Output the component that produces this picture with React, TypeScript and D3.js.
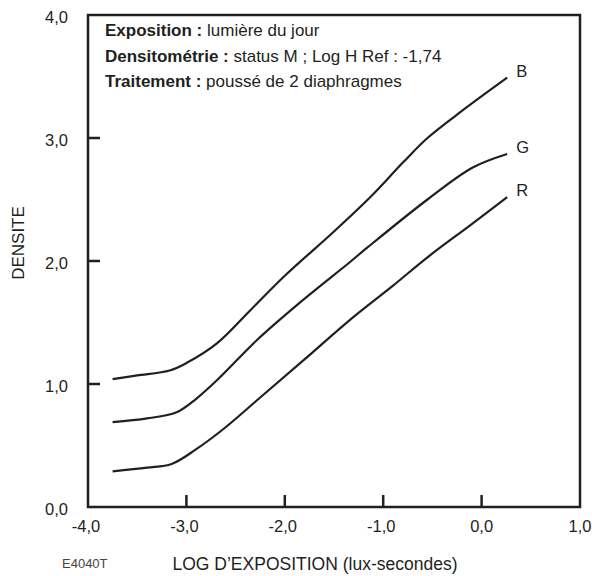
import { useEffect, useRef } from "react"
import * as d3 from "d3"

// log exposure / density readings per layer
const blueCurve: [number, number][] = [
  [-3.75, 1.04], [-3.5, 1.07], [-3.17, 1.11], [-3.0, 1.17], [-2.69, 1.33], [-2.35, 1.6],
  [-2.0, 1.88], [-1.5, 2.24], [-1.13, 2.52], [-0.8, 2.8], [-0.55, 3.0], [-0.2, 3.22], [0.26, 3.49],
]
const greenCurve: [number, number][] = [
  [-3.75, 0.69], [-3.4, 0.72], [-3.1, 0.77], [-2.9, 0.88], [-2.69, 1.03], [-2.28, 1.36],
  [-1.85, 1.66], [-1.34, 1.99], [-1.16, 2.11], [-0.55, 2.5], [-0.09, 2.76], [0.26, 2.87],
]
const redCurve: [number, number][] = [
  [-3.75, 0.29], [-3.4, 0.32], [-3.15, 0.35], [-2.9, 0.47], [-2.63, 0.63], [-2.25, 0.89],
  [-1.8, 1.2], [-1.31, 1.54], [-0.9, 1.8], [-0.55, 2.03], [-0.1, 2.3], [0.26, 2.52],
]
const seriesNames = ["B", "G", "R"]
const xTicks = [-4, -3, -2, -1, 0, 1]
const yTicks = [0, 1, 2, 3, 4]
const infoLines = [
  ["Exposition :", " lumière du jour"],
  ["Densitométrie :", " status M ; Log H Ref : -1,74"],
  ["Traitement :", " poussé de 2 diaphragmes"],
]

const FONT = "'Liberation Sans', Arial, Helvetica, sans-serif"
const INK = "#231f20"

const App = () => {
  const svgRef = useRef<SVGSVGElement>(null)

  useEffect(() => {
    const svg = d3.select(svgRef.current)
    svg.selectAll("*").remove()

    const margin = { top: 15, right: 12, bottom: 69, left: 88 }
    const W = 592, H = 576
    const w = W - margin.left - margin.right
    const h = H - margin.top - margin.bottom

    const x = d3.scaleLinear().domain([-4, 1]).range([0, w])
    const y = d3.scaleLinear().domain([0, 4]).range([h, 0])
    // comma decimal, plain hyphen
    const fmt = (v: number) => (v < 0 ? "-" : "") + Math.abs(v).toFixed(1).replace(".", ",")

    const g = svg.append("g").attr("transform", `translate(${margin.left},${margin.top})`)

    // frame
    g.append("rect")
      .attr("width", w).attr("height", h)
      .attr("fill", "none").attr("stroke", INK).attr("stroke-width", 2.5)

    // inward ticks
    g.selectAll(".xt").data(xTicks.slice(1, -1)).join("line")
      .attr("x1", (d) => x(d)).attr("x2", (d) => x(d))
      .attr("y1", h).attr("y2", h - 12)
      .attr("stroke", INK).attr("stroke-width", 2.5)
    g.selectAll(".yt").data(yTicks.slice(1, -1)).join("line")
      .attr("x1", 0).attr("x2", 12)
      .attr("y1", (d) => y(d)).attr("y2", (d) => y(d))
      .attr("stroke", INK).attr("stroke-width", 2.5)

    g.selectAll(".xl").data(xTicks).join("text")
      .attr("x", (d) => x(d) - (d < 0 ? 2 : 0)).attr("y", h + 25)
      .attr("text-anchor", "middle")
      .style("font", `16.5px ${FONT}`).style("fill", INK)
      .text(fmt)
    g.selectAll(".yl").data(yTicks).join("text")
      .attr("x", -20).attr("y", (d) => y(d) + 8)
      .attr("text-anchor", "end")
      .style("font", `16.5px ${FONT}`).style("fill", INK)
      .text(fmt)

    // curves
    const line = d3.line<[number, number]>()
      .x((d) => x(d[0])).y((d) => y(d[1]))
      .curve(d3.curveCatmullRom.alpha(0.5))
    const curves = [blueCurve, greenCurve, redCurve]
    curves.forEach((c, i) => {
      g.append("path").datum(c)
        .attr("fill", "none").attr("stroke", INK).attr("stroke-width", 2.2)
        .attr("d", line)
      const last = c[c.length - 1]
      g.append("text")
        .attr("x", x(last[0]) + 9).attr("y", y(last[1]) - 1)
        .style("font", `16.5px ${FONT}`).style("fill", INK)
        .text(seriesNames[i])
    })

    // info text
    infoLines.forEach((l, i) => {
      const t = g.append("text")
        .attr("x", 17).attr("y", 21 + i * 25.5)
        .style("font", `17px ${FONT}`).style("fill", INK)
      t.append("tspan").style("font-weight", "bold").text(l[0])
      t.append("tspan").text(l[1])
    })

    // axis titles
    svg.append("text")
      .attr("transform", `translate(24,243) rotate(-90)`)
      .attr("text-anchor", "middle")
      .style("font", `17px ${FONT}`).style("fill", INK)
      .text("DENSITE")
    svg.append("text")
      .attr("x", 315).attr("y", 570)
      .attr("text-anchor", "middle")
      .style("font", `17.5px ${FONT}`).style("fill", INK)
      .text("LOG D’EXPOSITION (lux-secondes)")
    svg.append("text")
      .attr("x", 62).attr("y", 568)
      .style("font", `13px ${FONT}`).style("fill", "#444")
      .text("E4040T")
  }, [])

  return <svg ref={svgRef} width={592} height={576} style={{ position: "absolute", left: 0, top: 0, background: "#fff" }}></svg>
}

export default App
